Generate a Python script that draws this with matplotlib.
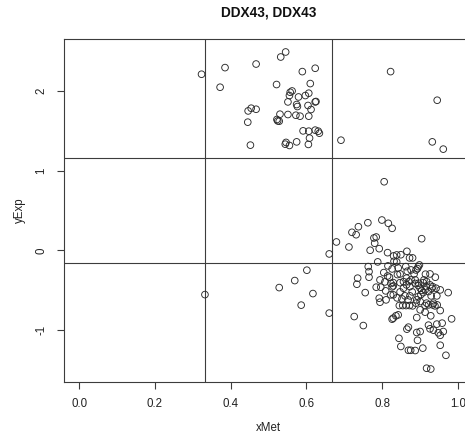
import numpy as np
import matplotlib
matplotlib.use("Agg")
import matplotlib.pyplot as plt

plt.rcParams["font.family"] = ["Liberation Sans", "DejaVu Sans"]
plt.rcParams["axes.unicode_minus"] = False

TITLE = "DDX43, DDX43"

# methylation (x) / expression (y) per sample, upper cluster
x_high = [0.545, 0.532, 0.385, 0.467, 0.323, 0.623, 0.589, 0.372, 0.521, 0.610,
          0.562, 0.557, 0.555, 0.579, 0.597, 0.606, 0.551, 0.574, 0.576, 0.623,
          0.625, 0.604, 0.612, 0.454, 0.446, 0.467, 0.530, 0.551, 0.572, 0.583,
          0.606, 0.522, 0.524, 0.528, 0.445, 0.591, 0.606, 0.623, 0.631, 0.634,
          0.608, 0.691, 0.452, 0.546, 0.544, 0.555, 0.574, 0.605, 0.822, 0.945,
          0.932, 0.961]
y_high = [2.486, 2.423, 2.290, 2.335, 2.207, 2.282, 2.240, 2.044, 2.078, 2.090,
          1.997, 1.981, 1.940, 1.922, 1.940, 1.969, 1.860, 1.827, 1.802, 1.860,
          1.865, 1.815, 1.765, 1.781, 1.747, 1.768, 1.706, 1.702, 1.693, 1.681,
          1.681, 1.640, 1.622, 1.618, 1.606, 1.497, 1.493, 1.506, 1.493, 1.468,
          1.406, 1.380, 1.318, 1.352, 1.330, 1.314, 1.359, 1.327, 2.240, 1.881,
          1.359, 1.268]

# scattered mid-range samples
x_mid = [0.679, 0.660, 0.601, 0.569, 0.528, 0.617, 0.332, 0.586, 0.660]
y_mid = [0.104, -0.046, -0.250, -0.380, -0.468, -0.543, -0.556, -0.688, -0.788]

# high methylation / low expression cluster
x_low = [0.805, 0.799, 0.762, 0.816, 0.826, 0.737, 0.720, 0.731, 0.778, 0.784,
         0.780, 0.712, 0.768, 0.792, 0.904, 0.814, 0.865, 0.830, 0.838, 0.849,
         0.872, 0.880, 0.788, 0.831, 0.838, 0.815, 0.862, 0.898, 0.895, 0.893,
         0.889, 0.763, 0.765, 0.765, 0.804, 0.814, 0.819, 0.840, 0.847, 0.866,
         0.914, 0.940, 0.735, 0.733, 0.784, 0.796, 0.829, 0.847, 0.864, 0.870,
         0.864, 0.873, 0.887, 0.896, 0.908, 0.910, 0.933, 0.942, 0.755, 0.792,
         0.794, 0.822, 0.829, 0.829, 0.845, 0.854, 0.863, 0.872, 0.880, 0.889,
         0.913, 0.922, 0.933, 0.939, 0.945, 0.900, 0.913, 0.953, 0.974, 0.944,
         0.928, 0.983, 0.891, 0.842, 0.836, 0.826, 0.829, 0.726, 0.750, 0.869,
         0.865, 0.891, 0.900, 0.922, 0.926, 0.935, 0.944, 0.958, 0.948, 0.953,
         0.961, 0.844, 0.893, 0.953, 0.849, 0.869, 0.875, 0.887, 0.907, 0.968,
         0.917, 0.928, 0.823, 0.826, 0.856, 0.856, 0.876, 0.887, 0.895, 0.900,
         0.904, 0.917, 0.926, 0.931, 0.922, 0.953, 0.891, 0.895, 0.902, 0.908,
         0.913, 0.916, 0.900, 0.917, 0.935, 0.873, 0.860, 0.847, 0.839, 0.809,
         0.810, 0.879, 0.868, 0.852, 0.884, 0.876, 0.826, 0.842, 0.794, 0.807,
         0.929, 0.926]
y_low = [0.859, 0.379, 0.345, 0.338, 0.275, 0.295, 0.225, 0.195, 0.154, 0.166,
         0.088, 0.041, 0.000, 0.020, 0.145, -0.030, -0.013, -0.071, -0.059, -0.056,
         -0.096, -0.096, -0.146, -0.138, -0.146, -0.196, -0.205, -0.184, -0.205, -0.230,
         -0.247, -0.205, -0.268, -0.338, -0.280, -0.322, -0.338, -0.305, -0.297, -0.263,
         -0.300, -0.338, -0.350, -0.426, -0.463, -0.463, -0.406, -0.406, -0.350, -0.393,
         -0.434, -0.456, -0.372, -0.413, -0.406, -0.372, -0.456, -0.476, -0.531, -0.601,
         -0.651, -0.559, -0.559, -0.447, -0.693, -0.693, -0.693, -0.693, -0.697, -0.663,
         -0.693, -0.685, -0.685, -0.697, -0.685, -0.747, -0.776, -0.756, -0.531, -0.572,
         -0.822, -0.860, -0.844, -0.810, -0.822, -0.864, -0.851, -0.831, -0.944, -0.964,
         -0.989, -1.031, -1.019, -0.939, -0.985, -1.002, -0.926, -0.914, -1.035, -1.066,
         -1.019, -1.104, -1.129, -1.191, -1.206, -1.254, -1.254, -1.257, -1.227, -1.317,
         -1.479, -1.489, -0.416, -0.459, -0.393, -0.476, -0.372, -0.416, -0.442, -0.476,
         -0.503, -0.393, -0.434, -0.478, -0.518, -0.497, -0.622, -0.581, -0.556, -0.531,
         -0.497, -0.456, -0.643, -0.663, -0.663, -0.572, -0.572, -0.522, -0.597, -0.509,
         -0.622, -0.522, -0.622, -0.610, -0.297, -0.247, -0.234, -0.222, -0.372, -0.397,
         -0.572, -0.297]

x_met = np.array(x_high + x_mid + x_low)
y_exp = np.array(y_high + y_mid + y_low)

# tercile cut points: fixed [0, 1] range for methylation, data range for expression
x_cuts = [1 / 3, 2 / 3]
y_min, y_max = y_exp.min(), y_exp.max()
y_cuts = [y_min + (y_max - y_min) / 3, y_min + 2 * (y_max - y_min) / 3]

fig = plt.figure(figsize=(4.65, 4.37), dpi=100)
# the plot region runs past the right edge of the figure
ax = fig.add_axes([64 / 465, 55.3 / 437, 409.2 / 465, 342.4 / 437])

line_col = "#3c3c3c"
ax.scatter(x_met, y_exp, s=23, facecolors="none", edgecolors="#2a2a2a", linewidths=0.65, zorder=3)
for xc in x_cuts:
    ax.axvline(xc, color=line_col, lw=0.8, zorder=2)
for yc in y_cuts:
    ax.axhline(yc, color=line_col, lw=0.8, zorder=2)

# R-style 4% padding around the ranges
ax.set_xlim(-0.04, 1.04)
pad = 0.04 * (y_max - y_min)
ax.set_ylim(y_min - pad, y_max + pad)

ax.set_xticks([0.0, 0.2, 0.4, 0.6, 0.8, 1.0])
ax.set_xticklabels(["0.0", "0.2", "0.4", "0.6", "0.8", "1.0"])
ax.set_yticks([-1, 0, 1, 2])
ax.set_yticklabels(["-1", "0", "1", "2"])
ax.tick_params(axis="both", direction="out", length=5, width=0.8, color=line_col,
               labelsize=8.3, labelcolor="#222222")
ax.tick_params(axis="x", pad=7)
ax.tick_params(axis="y", pad=7)
for lab in ax.get_yticklabels():
    lab.set_rotation(90)
    lab.set_va("center")

for sp in ax.spines.values():
    sp.set_color(line_col)
    sp.set_linewidth(0.8)

ax.set_xlabel("xMet", fontsize=8.3, color="#222222")
ax.set_ylabel("yExp", fontsize=8.3, color="#222222")
ax.xaxis.set_label_coords(0.5, -0.135)
ax.xaxis.label.set_va("center")
ax.yaxis.set_label_coords(-0.1075, 0.5)
ax.yaxis.label.set_va("center")

ax.text(0.5, 1.078, TITLE, transform=ax.transAxes, ha="center", va="center",
        fontsize=9.8, fontweight="bold", color="#111111")

fig.savefig("out.png", dpi=100)
